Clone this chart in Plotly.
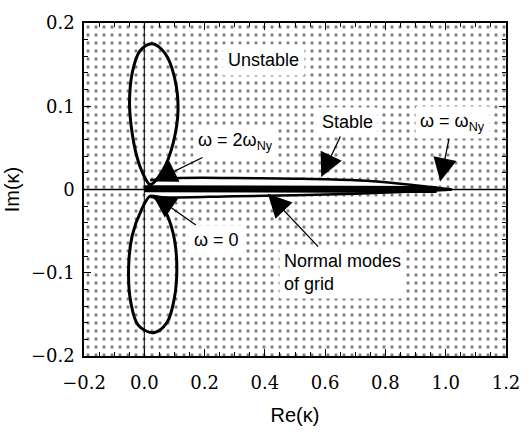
import plotly.graph_objects as go

# ---- data ----
X_RANGE = [-0.2, 1.2]
Y_RANGE = [-0.2, 0.2]

UPPER_LOBE_RE = [0.02, 0.063, 0.096, 0.112, 0.10, 0.07, 0.026, -0.015, -0.04, -0.049, -0.043, -0.025, -0.003, 0.02]
UPPER_LOBE_IM = [0.006, 0.024, 0.056, 0.096, 0.135, 0.163, 0.175, 0.166, 0.14, 0.105, 0.075, 0.04, 0.018, 0.006]

LOWER_LOBE_RE = [0.02, -0.01, -0.04, -0.052, -0.045, -0.02, 0.031, 0.075, 0.10, 0.108, 0.10, 0.075, 0.045, 0.02]
LOWER_LOBE_IM = [-0.008, -0.025, -0.055, -0.095, -0.135, -0.163, -0.172, -0.16, -0.13, -0.095, -0.06, -0.03, -0.013, -0.008]

SLIVER_RE = [0.02, 0.1, 0.3, 0.5, 0.7, 0.85, 0.95, 1.02]
SLIVER_UPPER_IM = [0.011, 0.0135, 0.0138, 0.013, 0.011, 0.007, 0.003, 0.0]
SLIVER_LOWER_IM = [-0.009, -0.0095, -0.008, -0.007, -0.005, -0.003, -0.0015, 0.0]

MODES_RE = [0.0, 0.5, 0.97]
MODES_IM = [0.001, 0.001, 0.0]

SANS = "Liberation Sans"
SERIF = "DejaVu Serif"

fig = go.Figure()

# stippled "unstable" background
fig.add_trace(go.Scatter(
    x=[X_RANGE[0], X_RANGE[1], X_RANGE[1], X_RANGE[0], X_RANGE[0]],
    y=[Y_RANGE[0], Y_RANGE[0], Y_RANGE[1], Y_RANGE[1], Y_RANGE[0]],
    mode="lines", line=dict(width=0), fill="toself", fillcolor="white",
    fillpattern=dict(shape=".", size=8, solidity=0.13, fgcolor="black", bgcolor="white"),
    hoverinfo="skip", showlegend=False))

# white stable sliver
fig.add_trace(go.Scatter(
    x=SLIVER_RE + SLIVER_RE[::-1], y=SLIVER_UPPER_IM + SLIVER_LOWER_IM[::-1],
    mode="lines", line=dict(width=0), fill="toself", fillcolor="white",
    hoverinfo="skip", showlegend=False))

# axes through the origin
fig.add_trace(go.Scatter(x=[0, 0], y=Y_RANGE, mode="lines",
                         line=dict(color="black", width=1), hoverinfo="skip", showlegend=False))
fig.add_trace(go.Scatter(x=X_RANGE, y=[0, 0], mode="lines",
                         line=dict(color="black", width=1.5), hoverinfo="skip", showlegend=False))

# normal modes of grid (thick band)
fig.add_trace(go.Scatter(x=MODES_RE, y=MODES_IM, mode="lines",
                         line=dict(color="black", width=7), hoverinfo="skip", showlegend=False))

# sliver boundaries
for im in (SLIVER_UPPER_IM, SLIVER_LOWER_IM):
    fig.add_trace(go.Scatter(x=SLIVER_RE, y=im, mode="lines",
                             line=dict(color="black", width=2.5, shape="spline"),
                             hoverinfo="skip", showlegend=False))

# lobes
for xs, ys in ((UPPER_LOBE_RE, UPPER_LOBE_IM), (LOWER_LOBE_RE, LOWER_LOBE_IM)):
    fig.add_trace(go.Scatter(x=xs, y=ys, mode="lines",
                             line=dict(color="black", width=3, shape="spline"),
                             hoverinfo="skip", showlegend=False))

FONT = dict(family=SANS, size=18, color="black")

# plain label
fig.add_annotation(x=0.395, y=0.155, text="Unstable", showarrow=False,
                   font=FONT, bgcolor="white", borderpad=5)

# labels with arrows: tip in data coords, label centre as pixel offset from tip
def arrow_label(x, y, ax, ay, text, align="center"):
    fig.add_annotation(x=x, y=y, ax=ax, ay=ay, text=text, align=align,
                       font=FONT, bgcolor="white", borderpad=4,
                       showarrow=True, arrowhead=2, arrowsize=3.6, arrowwidth=1.3,
                       arrowcolor="black", standoff=0)

arrow_label(0.587, 0.015, 26, -55, "Stable")
arrow_label(0.982, 0.0096, 12, -59, "ω = ω<sub>Ny</sub>")
arrow_label(0.03, 0.0096, 82, -40, "ω = 2ω<sub>Ny</sub>")
arrow_label(0.027, -0.006, 64, 45, "ω = 0")
arrow_label(0.41, -0.005, 75, 79, "Normal modes<br>of grid", align="left")

TICKFONT = dict(family=SERIF, size=18, color="black")

fig.update_layout(
    width=529, height=434,
    margin=dict(l=84, r=23, t=23, b=78),
    paper_bgcolor="white", plot_bgcolor="white",
    showlegend=False,
    font=dict(family=SANS, color="black"),
    xaxis=dict(range=X_RANGE, dtick=0.2, tick0=-0.2, tickformat=".1f", automargin=False,
               showgrid=False, zeroline=False,
               showline=True, linecolor="black", linewidth=1.5, mirror="allticks",
               ticks="inside", ticklen=7, tickcolor="black", ticklabelstandoff=10,
               minor=dict(dtick=0.05, ticks="inside", ticklen=4, tickcolor="black"),
               tickfont=TICKFONT,
               title=dict(text="Re(κ)", font=dict(family=SANS, size=20, color="black"), standoff=16)),
    yaxis=dict(range=Y_RANGE, dtick=0.1, tick0=-0.2, tickformat=".1~f", automargin=False,
               showgrid=False, zeroline=False,
               showline=True, linecolor="black", linewidth=1.5, mirror="allticks",
               ticks="inside", ticklen=7, tickcolor="black", ticklabelstandoff=4,
               minor=dict(dtick=0.02, ticks="inside", ticklen=4, tickcolor="black"),
               tickfont=TICKFONT,
               title=dict(text="Im(κ)", font=dict(family=SANS, size=20, color="black"), standoff=6)),
)

fig.write_html("out.html")
